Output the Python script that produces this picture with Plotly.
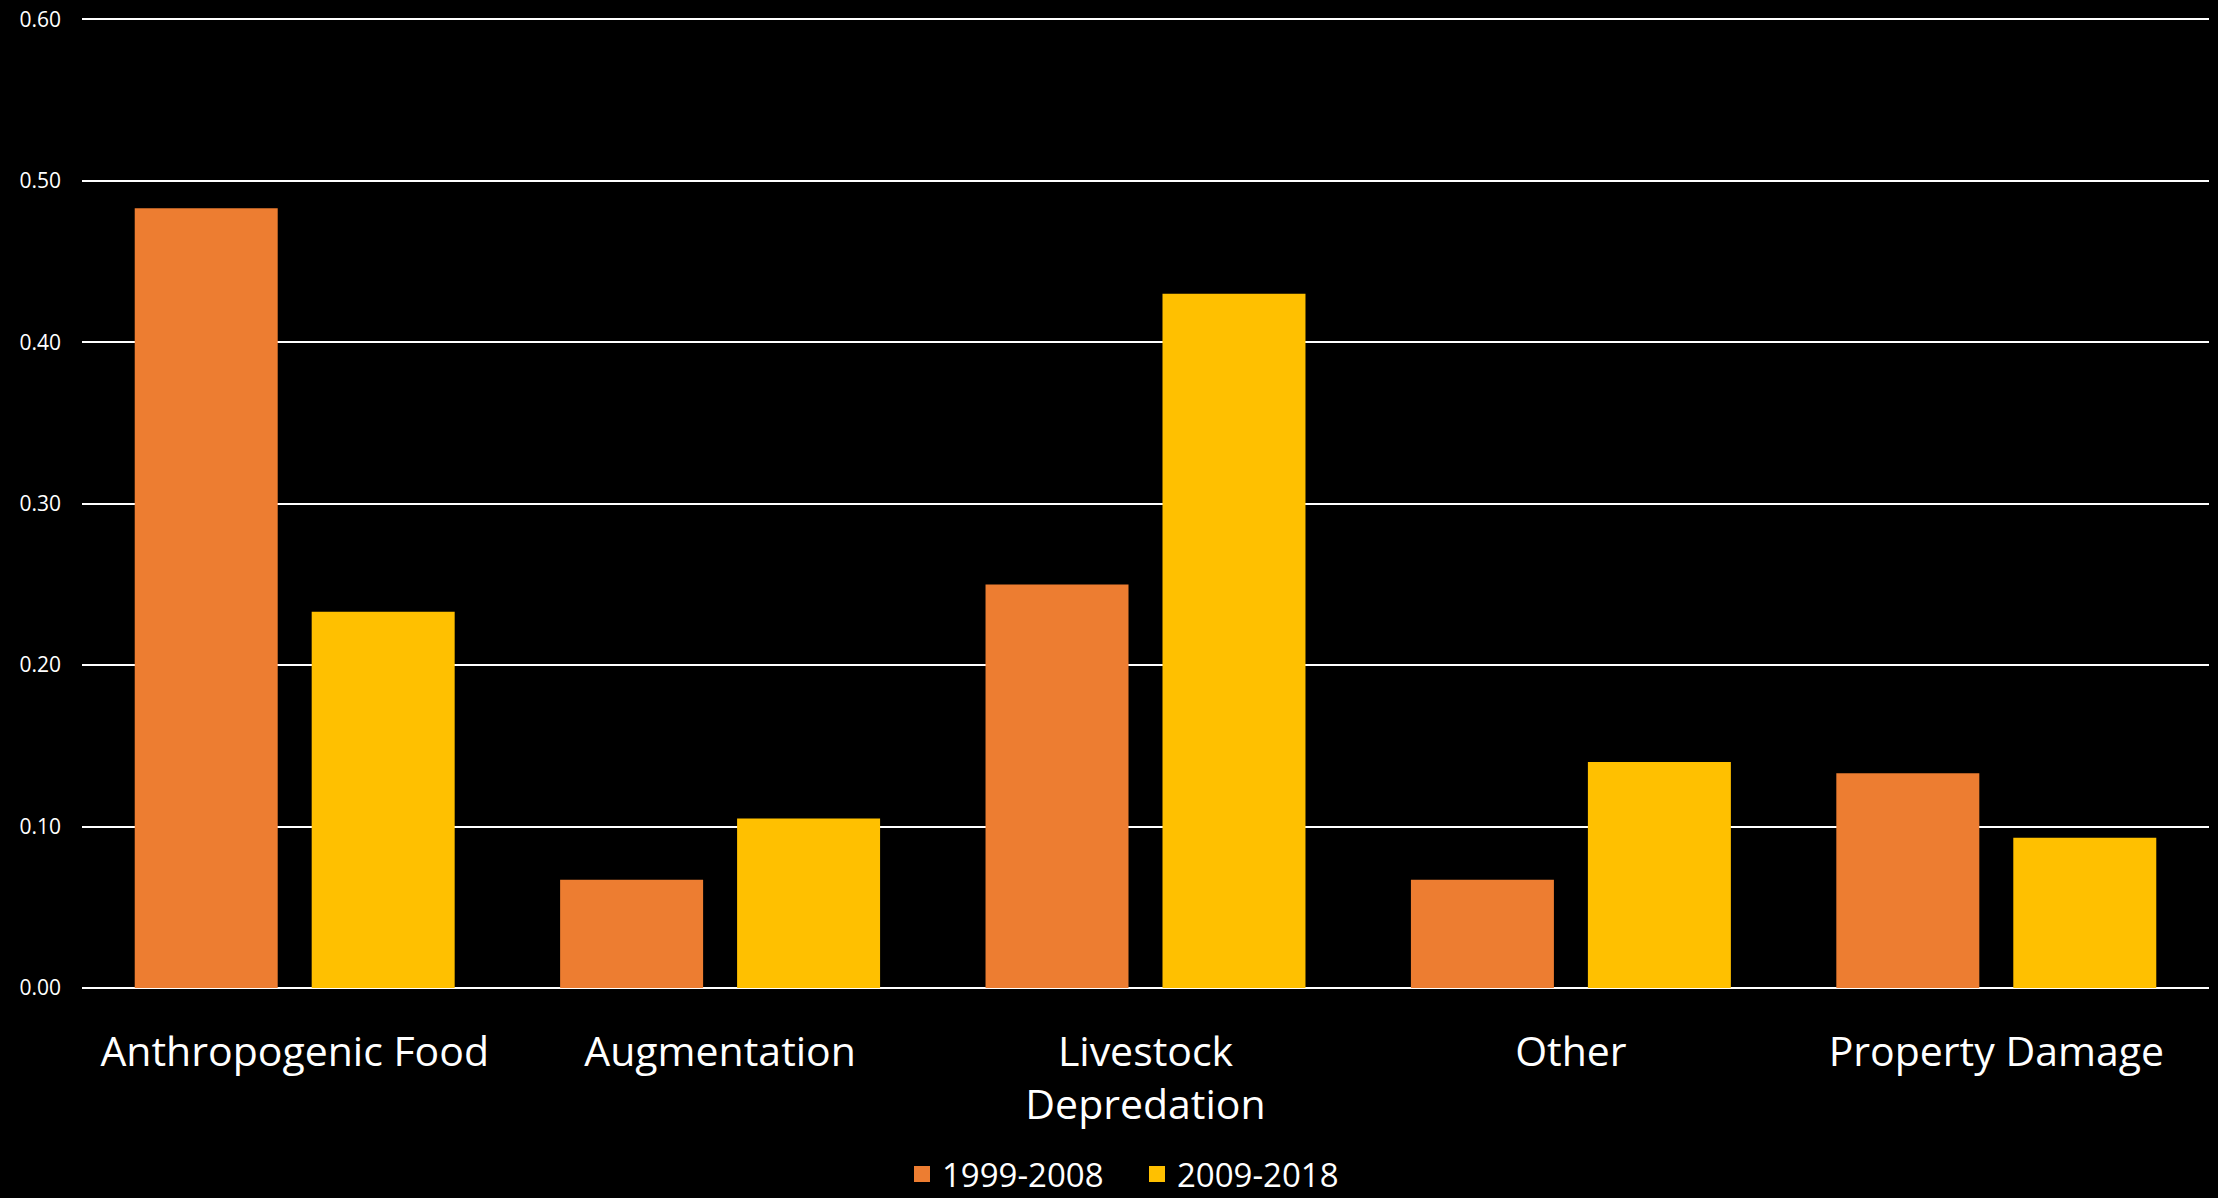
import plotly.graph_objects as go

categories = ["Anthropogenic Food", "Augmentation", "Livestock<br>Depredation", "Other", "Property Damage"]
series_names = ["1999-2008", "2009-2018"]
values_1999_2008 = [0.483, 0.067, 0.250, 0.067, 0.133]
values_2009_2018 = [0.233, 0.105, 0.430, 0.140, 0.093]
colors = ["#ED7D31", "#FFC000"]
tick_vals = [0.0, 0.1, 0.2, 0.3, 0.4, 0.5, 0.6]
tick_text = ["0.00", "0.10", "0.20", "0.30", "0.40", "0.50", "0.60"]

fig = go.Figure()
for name, vals, col in zip(series_names, [values_1999_2008, values_2009_2018], colors):
    fig.add_trace(go.Bar(x=categories, y=vals, name=name, showlegend=False,
                         marker=dict(color=col, line=dict(width=0))))
# legend entries with larger square swatches
for name, col in zip(series_names, colors):
    fig.add_trace(go.Scatter(x=[None], y=[None], mode="markers", name=name,
                             marker=dict(symbol="square", size=16, color=col)))

fig.update_layout(
    width=2218, height=1198,
    paper_bgcolor="black", plot_bgcolor="black",
    margin=dict(l=82, r=9, t=17, b=210, autoexpand=False),
    barmode="group", bargap=0.168, bargroupgap=0.192,
    font=dict(family="Open Sans, Calibri, sans-serif", color="white"),
    showlegend=True,
    legend=dict(orientation="h", x=0.496, xanchor="center",
                yref="container", y=0.02, yanchor="middle",
                font=dict(size=33, color="white"), itemwidth=30,
                entrywidth=190, traceorder="normal"),
    xaxis=dict(showgrid=False, tickfont=dict(size=41, color="white"),
               showline=False, ticks="", ticklabelstandoff=36, automargin=False),
    yaxis=dict(range=[0, 0.6015], tickvals=tick_vals, ticktext=tick_text,
               showgrid=True, gridcolor="white", gridwidth=2,
               zeroline=True, zerolinecolor="white", zerolinewidth=2,
               tickfont=dict(size=21, color="white"), ticklabelstandoff=20,
               ticks="", automargin=False),
)

fig.write_html("out.html", config={"displayModeBar": False},
               post_script="document.body.style.margin='0';document.body.style.background='black';document.body.style.overflow='hidden';")
